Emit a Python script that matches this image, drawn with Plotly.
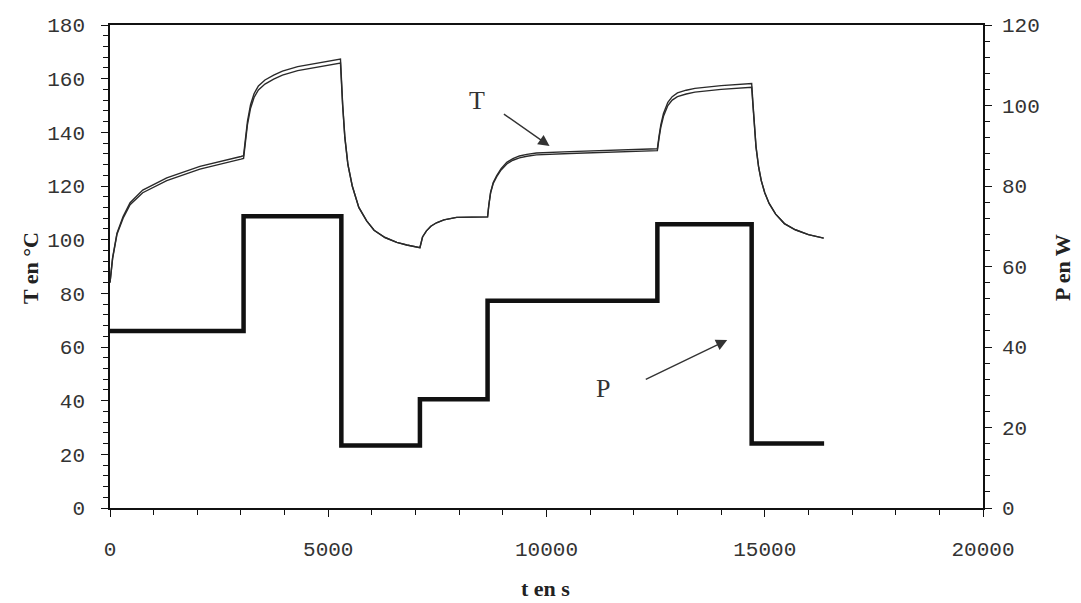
import plotly.graph_objects as go

# ---- data ----
# Power steps (right axis, W): step start times and levels
p_time = [0, 3060, 5300, 7100, 8650, 12540, 14700, 16360]
p_watts = [44, 72.5, 15.5, 27, 51.5, 70.5, 16, 16]

# Temperature (left axis, °C): two close curves
t_time = [0, 60, 160, 300, 460, 750, 1300, 2060, 3000, 3060,
          3100, 3150, 3220, 3300, 3400, 3550, 3750, 3950, 4300, 4740,
          5280, 5330, 5380, 5450, 5550, 5700, 5880, 6050, 6300, 6570,
          6800, 7100, 7160, 7250, 7350, 7480, 7650, 7940, 8300, 8650,
          8680, 8720, 8780, 8860, 8960, 9090, 9230, 9380, 9550, 9770,
          10530, 11280, 12290, 12540, 12580, 12620, 12680, 12780, 12880, 13000,
          13200, 13400, 14000, 14700, 14730, 14760, 14800, 14860, 14920, 15000,
          15100, 15250, 15450, 15700, 16000, 16350]
t_lower = [84, 93, 102, 108, 113, 117.5, 122, 126.3, 130, 130.3,
           136, 143, 149, 153, 155.8, 158, 159.8, 161.3, 163, 164.3,
           165.8, 150, 138, 128, 120, 112, 107, 103.5, 100.8, 99,
           98, 97, 101, 103.3, 105, 106.3, 107.4, 108.3, 108.5, 108.5,
           113, 117.5, 121, 123.5, 126, 128.2, 129.6, 130.5, 131.1, 131.6,
           132.1, 132.5, 132.9, 133.2, 138, 142, 146, 150, 152, 153.3,
           154.3, 155, 156, 156.8, 150, 142, 134.5, 127, 122, 117.5,
           113.5, 109.5, 106, 103.7, 101.9, 100.6]
t_upper = [84, 93.3, 102.4, 108.6, 113.8, 118.5, 123, 127.3, 131, 131.3,
           137.1, 144.2, 150.3, 154.4, 157.3, 159.5, 161.3, 162.8, 164.5, 165.8,
           167.3, 150.5, 138.3, 128.1, 120, 112, 107, 103.5, 100.8, 99,
           98, 97, 101, 103.3, 105, 106.3, 107.4, 108.3, 108.5, 108.5,
           113.1, 117.7, 121.3, 123.9, 126.5, 128.8, 130.2, 131.2, 131.8, 132.3,
           132.8, 133.2, 133.6, 133.9, 138.8, 142.9, 147, 151.2, 153.3, 154.7,
           155.7, 156.4, 157.4, 158.2, 150.8, 142.4, 134.7, 127, 122, 117.5,
           113.5, 109.5, 106, 103.7, 101.9, 100.6]

x_ticks = [0, 5000, 10000, 15000, 20000]
x_labels = ["0", "5000", "10000", "15000", "20000"]
y_ticks = [0, 20, 40, 60, 80, 100, 120, 140, 160, 180]
y2_ticks = [0, 20, 40, 60, 80, 100, 120]

tick_font = dict(family="Liberation Mono", size=21, color="#333")
title_font = dict(family="Liberation Serif", size=22, color="#222")
label_font = dict(family="Liberation Serif", size=26, color="#333")

# page body adds an 8px offset; size the figure to fit the window
W, H = 1073, 595
L, R, T, B = 102, 98, 17, 95
OFF = 8

fig = go.Figure()
fig.add_trace(go.Scatter(x=t_time, y=t_upper, mode="lines",
                         line=dict(color="#2a2a2a", width=1.4), showlegend=False))
fig.add_trace(go.Scatter(x=t_time, y=t_lower, mode="lines",
                         line=dict(color="#2a2a2a", width=1.4), showlegend=False))
fig.add_trace(go.Scatter(x=p_time, y=p_watts, mode="lines", yaxis="y2",
                         line=dict(color="#111", width=4.5, shape="hv"),
                         showlegend=False))

axis_common = dict(showgrid=False, zeroline=False, showline=True, linecolor="#111",
                   linewidth=1.5, ticks="outside", tickcolor="#111", ticklen=7,
                   tickwidth=1.2, tickfont=tick_font, automargin=False)


def paper_xy(px, py):
    pw, ph = W - L - R, H - T - B
    return (px - OFF - L) / pw, 1 - (py - OFF - T) / ph


tx, ty = paper_xy(30, 268)
px_, py_ = paper_xy(1062, 268)
sx, sy = paper_xy(545, 588)

fig.update_layout(
    width=W, height=H,
    paper_bgcolor="white", plot_bgcolor="white",
    margin=dict(l=L, r=R, t=T, b=B),
    xaxis=dict(range=[0, 20000], tickvals=x_ticks, ticktext=x_labels, mirror=True,
               minor=dict(dtick=1000, ticks="outside", ticklen=5, tickcolor="#111"),
               ticklabelstandoff=14, **axis_common),
    yaxis=dict(range=[0, 180], tickvals=y_ticks,
               minor=dict(dtick=4, ticks="outside", ticklen=5, tickcolor="#111"),
               ticklabelstandoff=12, **axis_common),
    yaxis2=dict(range=[0, 120], tickvals=y2_ticks, overlaying="y", side="right",
                minor=dict(dtick=4, ticks="outside", ticklen=5, tickcolor="#111"),
                ticklabelstandoff=6, **axis_common),
    annotations=[
        dict(x=tx, y=ty, xref="paper", yref="paper", text="<b>T en °C</b>",
             showarrow=False, textangle=-90, font=title_font,
             xanchor="center", yanchor="middle"),
        dict(x=px_, y=py_, xref="paper", yref="paper", text="<b>P en W</b>",
             showarrow=False, textangle=-90, font=title_font,
             xanchor="center", yanchor="middle"),
        dict(x=sx, y=sy, xref="paper", yref="paper", text="<b>t en s</b>",
             showarrow=False, font=title_font, xanchor="center", yanchor="middle"),
        dict(x=10070, y=134.9, ax=8990, ay=147.2, xref="x", yref="y",
             axref="x", ayref="y", showarrow=True, arrowhead=2, arrowsize=1.6,
             arrowwidth=1.4, arrowcolor="#333", text=""),
        dict(x=8400, y=152, xref="x", yref="y", text="T", showarrow=False,
             font=label_font),
        dict(x=14140, y=62.6, ax=12240, ay=47.7, xref="x", yref="y",
             axref="x", ayref="y", showarrow=True, arrowhead=2, arrowsize=1.6,
             arrowwidth=1.4, arrowcolor="#333", text=""),
        dict(x=11300, y=44.7, xref="x", yref="y", text="P", showarrow=False,
             font=label_font),
    ],
)

fig.write_html("out.html")
